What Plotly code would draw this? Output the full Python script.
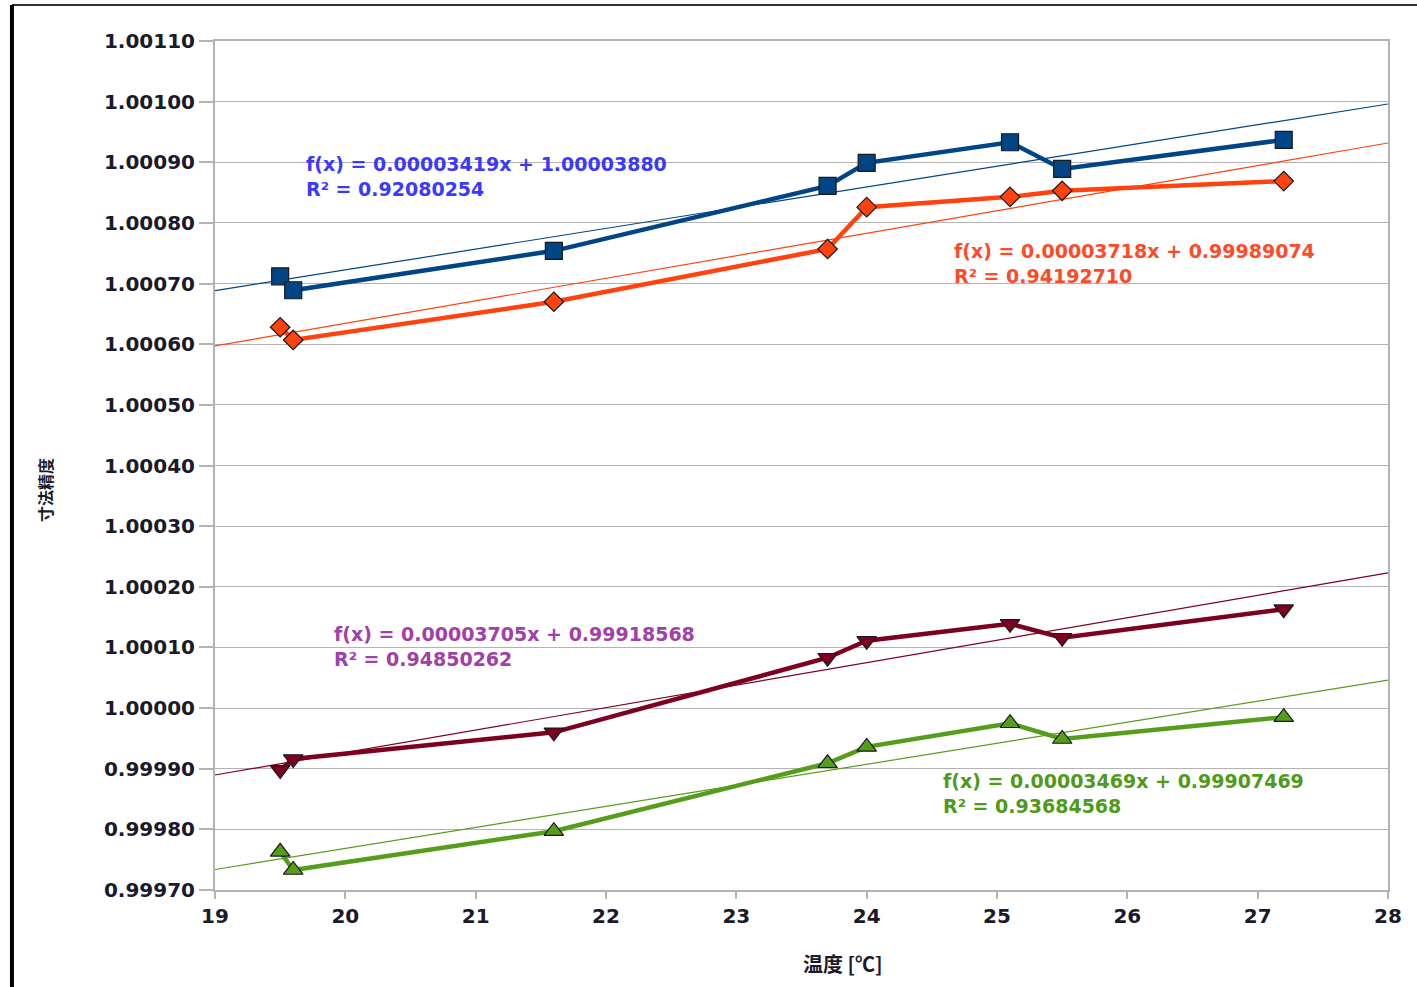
import plotly.graph_objects as go

# ---- data ----
temps = [19.5, 19.6, 21.6, 23.7, 24.0, 25.1, 25.5, 27.2]
series_blue = [1.000712, 1.000689, 1.000754, 1.000861, 1.000899, 1.000933, 1.000889, 1.000937]
series_orange = [1.000628, 1.000607, 1.000670, 1.000757, 1.000826, 1.000843, 1.000853, 1.000869]
series_darkred = [0.999898, 0.999916, 0.999960, 1.000083, 1.000111, 1.000139, 1.000116, 1.000163]
series_green = [0.999763, 0.999733, 0.999797, 0.999909, 0.999936, 0.999975, 0.999949, 0.999985]

slopes = [0.00003419, 0.00003718, 0.00003705, 0.00003469]
intercepts = [1.00003880, 0.99989074, 0.99918568, 0.99907469]
r2_texts = ["0.92080254", "0.94192710", "0.94850262", "0.93684568"]
eq_texts = ["f(x) = 0.00003419x + 1.00003880",
            "f(x) = 0.00003718x + 0.99989074",
            "f(x) = 0.00003705x + 0.99918568",
            "f(x) = 0.00003469x + 0.99907469"]

x_ticks = [19, 20, 21, 22, 23, 24, 25, 26, 27, 28]
y_tickvals = [0.99970, 0.99980, 0.99990, 1.00000, 1.00010, 1.00020, 1.00030,
              1.00040, 1.00050, 1.00060, 1.00070, 1.00080, 1.00090, 1.00100, 1.00110]
y_ticktext = ["0.99970", "0.99980", "0.99990", "1.00000", "1.00010", "1.00020", "1.00030",
              "1.00040", "1.00050", "1.00060", "1.00070", "1.00080", "1.00090", "1.00100", "1.00110"]

x_title = "温度 [℃]"
y_title = "寸法精度"

# ---- styles ----
colors = ["#004586", "#ff420e", "#7e0021", "#579d1c"]
text_colors = ["#3a3aff", "#ff4a2a", "#a040a8", "#4f9a1a"]
symbols = ["square", "diamond", "triangle-down", "triangle-up"]
msizes = [17, 15, 17, 17]
# (x, y centre of the two-line label) in data coordinates
ann_pos = [(19.683, 1.000876), (24.655, 1.000733), (19.898, 1.000101), (24.570, 0.999859)]

all_series = [series_blue, series_orange, series_darkred, series_green]
x_range = [19, 28]

fig = go.Figure()
for i, ys in enumerate(all_series):
    # trend line
    fig.add_trace(go.Scatter(
        x=x_range, y=[slopes[i] * xv + intercepts[i] for xv in x_range],
        mode="lines", line=dict(color=colors[i], width=1.2),
        showlegend=False, hoverinfo="skip", cliponaxis=True))
for i, ys in enumerate(all_series):
    fig.add_trace(go.Scatter(
        x=temps, y=ys, mode="lines+markers",
        line=dict(color=colors[i], width=4.5),
        marker=dict(symbol=symbols[i], size=msizes[i], color=colors[i],
                    line=dict(color="#1a1a1a", width=1.2)),
        showlegend=False, cliponaxis=False))

for i in range(4):
    fig.add_annotation(
        x=ann_pos[i][0], y=ann_pos[i][1], xref="x", yref="y",
        text=eq_texts[i] + "<br>R² = " + r2_texts[i],
        showarrow=False, xanchor="left", yanchor="middle", align="left",
        font=dict(family="DejaVu Sans", size=19, weight="bold", color=text_colors[i]))

axis_font = dict(family="DejaVu Sans", size=20, weight="bold", color="#1a1a2a")

fig.update_xaxes(
    range=x_range, tickvals=x_ticks, ticktext=[str(t) for t in x_ticks],
    showgrid=False, zeroline=False, showline=True, linecolor="#b3b3b3", linewidth=2,
    mirror=True, ticks="outside", ticklen=7, tickcolor="#b3b3b3", tickwidth=2,
    tickfont=axis_font)
fig.update_yaxes(
    range=[0.99970, 1.00110], tickvals=y_tickvals, ticktext=y_ticktext,
    showgrid=True, gridcolor="#b3b3b3", gridwidth=1.2, zeroline=False,
    showline=True, linecolor="#b3b3b3", linewidth=2, mirror=True,
    ticks="outside", ticklen=14, tickcolor="#b3b3b3", tickwidth=1.5,
    tickfont=axis_font)

# axis titles
fig.add_annotation(x=0.5354, y=-0.086, xref="paper", yref="paper", text=x_title,
                   showarrow=False, xanchor="center", yanchor="middle",
                   font=dict(family="Noto Sans CJK JP", size=20, weight="bold", color="#1a1a2a"))
fig.add_annotation(x=-0.145, y=0.471, xref="paper", yref="paper", text=y_title,
                   showarrow=False, xanchor="center", yanchor="middle", textangle=-90,
                   font=dict(family="Noto Sans CJK JP", size=16, weight="bold", color="#1a1a2a"))

# outer frame (top and left edges visible in the reference)
fig.add_shape(type="line", xref="paper", yref="paper", x0=-0.1731, x1=1.03, y0=1.0424, y1=1.0424,
              line=dict(color="#333333", width=2))
fig.add_shape(type="line", xref="paper", yref="paper", x0=-0.1731, x1=-0.1731, y0=1.0424, y1=-0.2,
              line=dict(color="#000000", width=4))

fig.update_layout(
    width=1417, height=987, autosize=False,
    margin=dict(l=215, r=29, t=41, b=97),
    plot_bgcolor="white", paper_bgcolor="white",
    showlegend=False)

fig.write_html("out.html")
